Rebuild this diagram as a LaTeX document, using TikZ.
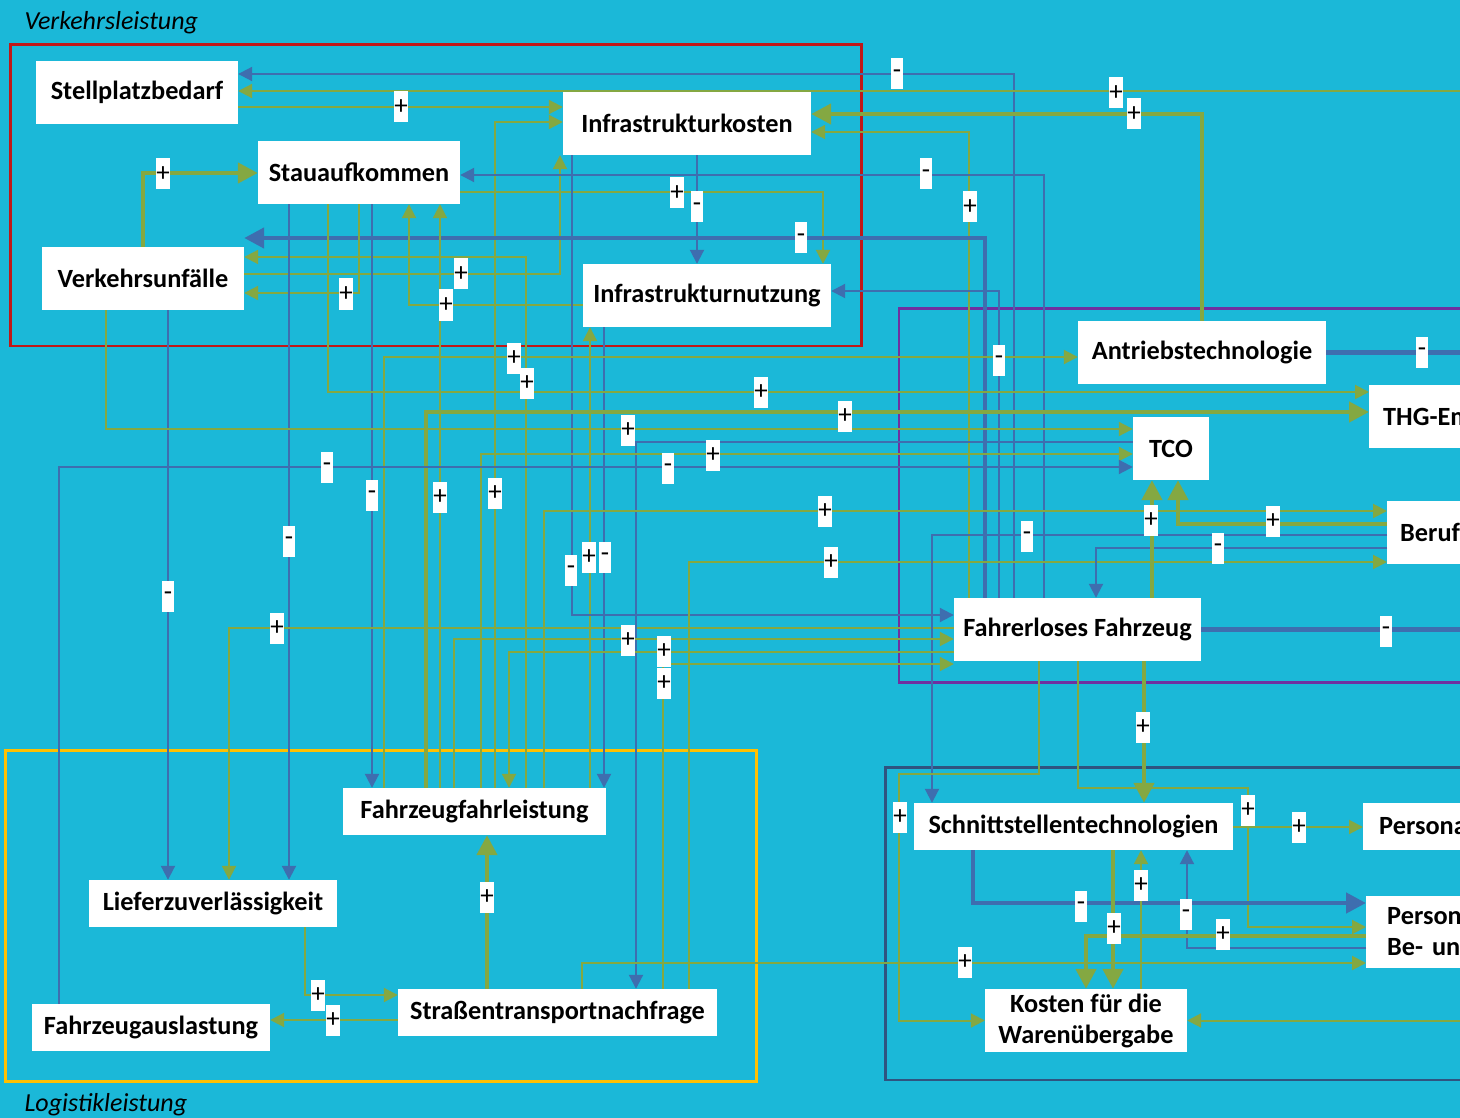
\documentclass[tikz,border=0pt]{standalone}
\usepackage{fontspec}
\setmainfont{Carlito}
\usetikzlibrary{arrows.meta, positioning}

\definecolor{bgcyan}{RGB}{27,184,216}
\definecolor{lgreen}{RGB}{132,168,66}
\definecolor{lblue}{RGB}{62,110,175}
\definecolor{redframe}{RGB}{192,24,24}
\definecolor{yellowframe}{RGB}{255,192,0}
\definecolor{purpleframe}{RGB}{112,48,160}
\definecolor{navyframe}{RGB}{47,84,128}

\begin{document}
\begin{tikzpicture}[x=1pt, y=-1pt,
    box/.style={fill=white, inner sep=0pt, font=\bfseries\fontsize{26.3}{31}\selectfont},
    cutbox/.style={box, anchor=west, text width=190pt, align=left, inner xsep=14pt},
    signbox/.style={fill=white, inner sep=0pt, minimum width=12pt, minimum height=31pt, font=\fontsize{27}{27}\selectfont},
    areabox/.style={line width=2.8pt},
    gline/.style={draw=lgreen, line width=2pt, -{Triangle[length=14pt,width=14pt]}},
    bline/.style={draw=lblue, line width=2pt, -{Triangle[length=14pt,width=14pt]}},
    gfat/.style={draw=lgreen, line width=4.5pt, -{Triangle[length=20pt,width=20pt]}},
    bfat/.style={draw=lblue, line width=4.5pt, -{Triangle[length=20pt,width=20pt]}},
    areatitle/.style={anchor=base west, font=\itshape\fontsize{26}{30}\selectfont}
  ]
    \useasboundingbox (0,0) rectangle (1460,1118);
    \clip (0,0) rectangle (1460,1118);
    \fill[bgcyan] (0,0) rectangle (1460,1118);

    % Areas
    \draw[areabox, redframe] (10.7,44.7) rectangle (861.3,346);
    \draw[areabox, yellowframe] (5.3,750.7) rectangle (756.3,1081.3);
    \draw[areabox, purpleframe] (899,308.3) rectangle (1480,682.7);
    \draw[areabox, navyframe] (885.6,767.7) rectangle (1480,1080);
    \node[areatitle] (tverkehr) at (21,30) {Verkehrsleistung};
    \node[areatitle] (tlogistik) at (21,1111) {Logistikleistung};

    % Variables
    \node[box, minimum width=202, minimum height=63] (stell) at (137,92.5) {Stellplatzbedarf};
    \node[box, minimum width=202, minimum height=63] (stau) at (359,172.5) {Stauaufkommen};
    \node[box, minimum width=202, minimum height=63] (unfall) at (143,278.5) {Verkehrsunfälle};
    \node[box, minimum width=248, minimum height=63] (ikost) at (687,123.5) {Infrastrukturkosten};
    \node[box, minimum width=248, minimum height=63] (inutz) at (707,295.5) {Infrastrukturnutzung};
    \node[box, minimum width=248, minimum height=63] (antrieb) at (1202,352.5) {Antriebstechnologie};
    \node[box, minimum width=76, minimum height=63] (tco) at (1171,448.5) {TCO};
    \node[box, minimum width=247, minimum height=63] (fahrerlos) at (1077.5,629.5) {Fahrerloses Fahrzeug};
    \node[box, minimum width=319, minimum height=47] (schnitt) at (1073.5,826.5) {Schnittstellentechnologien};
    \node[box, minimum width=202, minimum height=63, align=center] (kosten) at (1086,1020.5) {Kosten für die\\Warenübergabe};
    \node[box, minimum width=263, minimum height=47] (ffl) at (474.5,811.5) {Fahrzeugfahrleistung};
    \node[box, minimum width=248, minimum height=47] (liefer) at (213,903.5) {Lieferzuverlässigkeit};
    \node[box, minimum width=319, minimum height=47] (snf) at (557.5,1012.5) {Straßentransportnachfrage};
    \node[box, minimum width=238, minimum height=47] (ausl) at (151,1027.5) {Fahrzeugauslastung};
    \node[cutbox, minimum height=63] (thg) at (1369,416.5) {THG-Em};
    \node[cutbox, minimum height=63, inner xsep=13pt] (beruf) at (1387,532.5) {Beruf};
    \node[cutbox, minimum height=47, inner xsep=16pt] (persona) at (1363,826.5) {Persona};
    \node[cutbox, minimum height=72, inner xsep=21pt] (person) at (1366,932) {Person\\Be- und};

    % Free ends at the right edge
    \coordinate (redge1) at (1460,91);
    \coordinate (redge2) at (1460,352.5);
    \coordinate (redge3) at (1460,629.5);
    \coordinate (redge4) at (1460,1020.5);

    % Links, drawn under the boxes
    \begin{scope}
    \draw[bline] (fahrerlos.north -| 1014,0) |- (stell.east |- 0,74);
    \draw[gline] (redge1) -- (stell.east |- redge1);
    \draw[gline] (stell.east |- 0,107) -- (ikost.west |- 0,107);
    \draw[gline] (ffl.north -| 495,0) |- (ikost.west |- 0,122);
    \draw[gfat] (antrieb.north) |- (ikost.east |- 0,114);
    \draw[gline] (fahrerlos.north -| 969,0) |- (ikost.east |- 0,132);
    \draw[gline] (unfall.east |- 0,274) -| (ikost.south -| 560,0);
    \draw[gfat] (unfall.north) |- (stau.west |- 0,173);
    \draw[bline] (fahrerlos.north -| 1044,0) |- (stau.east |- 0,175);
    \draw[gline] (stau.east |- 0,192) -| (inutz.north -| 823,0);
    \draw[bline] (ikost.south -| 697,0) -- (inutz.north -| 697,0);
    \draw[bfat] (fahrerlos.north -| 985,0) |- (unfall.east |- 0,238);
    \draw[gline] (ffl.north -| 526,0) |- (unfall.east |- 0,257);
    \draw[gline] (stau.south -| 359,0) |- (unfall.east |- 0,293);
    \draw[gline] (inutz.west |- 0,305) -| (stau.south -| 409,0);
    \draw[gline] (ffl.north -| 440,0) -- (stau.south -| 440,0);
    \draw[bline] (fahrerlos.north -| 999,0) |- (inutz.east |- 0,291);
    \draw[gline] (ffl.north -| 590,0) -- (inutz.south -| 590,0);
    \draw[bline] (inutz.south -| 604,0) -- (ffl.north -| 604,0);
    \draw[bline] (stau.south -| 372,0) -- (ffl.north -| 372,0);
    \draw[bline] (stau.south -| 289,0) -- (liefer.north -| 289,0);
    \draw[bline] (unfall.south -| 168,0) -- (liefer.north -| 168,0);
    \draw[gline] (fahrerlos.west |- 0,628) -| (liefer.north -| 229,0);
    \draw[bline] (ikost.south -| 572,0) |- (fahrerlos.west |- 0,615);
    \draw[gline] (ffl.north -| 384,0) |- (antrieb.west |- 0,357);
    \draw[gline] (stau.south -| 328,0) |- (thg.west |- 0,392);
    \draw[gfat] (ffl.north -| 426,0) |- (thg.west |- 0,412);
    \draw[gline] (unfall.south -| 106,0) |- (tco.west |- 0,429);
    \draw[bline] (tco.west |- 0,442) -| (snf.north -| 636,0);
    \draw[gline] (ffl.north -| 481,0) |- (tco.west |- 0,454);
    \draw[bline] (ausl.north -| 59,0) |- (tco.west |- 0,467);
    \draw[gline] (ffl.north -| 544,0) |- (beruf.west |- 0,511);
    \draw[gline] (snf.north -| 689,0) |- (beruf.west |- 0,562);
    \draw[gfat] (beruf.west |- 0,524) -| (tco.south -| 1178,0);
    \draw[bline] (beruf.west |- 0,535) -| (schnitt.north -| 932,0);
    \draw[bline] (beruf.west |- 0,548) -| (fahrerlos.north -| 1096,0);
    \draw[gfat] (fahrerlos.north -| 1152,0) -- (tco.south -| 1152,0);
    \draw[gline] (ffl.north -| 454,0) |- (fahrerlos.west |- 0,639);
    \draw[gline] (fahrerlos.west |- 0,652) -| (ffl.north -| 509,0);
    \draw[gline] (snf.north -| 663,0) |- (fahrerlos.west |- 0,664);
    \draw[bfat, -] (antrieb.east) -- (redge2);
    \draw[bfat, -] (fahrerlos.east) -- (redge3);

    % Logistics and handover
    \draw[gline] (fahrerlos.south -| 1039,0) |- (899,774) |- (kosten.west);
    \draw[gline] (fahrerlos.south -| 1078,0) |- (1248,788) |- (person.west |- 0,927);
    \draw[gfat] (fahrerlos.south -| 1144,0) -- (schnitt.north -| 1144,0);
    \draw[gline] (schnitt.east |- 0,827) -- (persona.west |- 0,827);
    \draw[bfat] (schnitt.south -| 973,0) |- (person.west |- 0,903);
    \draw[gfat] (schnitt.south -| 1113,0) -- (kosten.north -| 1113,0);
    \draw[gline] (kosten.north -| 1141,0) -- (schnitt.south -| 1141,0);
    \draw[bline] (person.west |- 0,948) -| (schnitt.south -| 1187,0);
    \draw[gfat] (person.west |- 0,936) -| (kosten.north -| 1086,0);
    \draw[gline] (snf.north -| 582,0) |- (person.west |- 0,963);
    \draw[gline] (redge4) -- (kosten.east |- redge4);
    \draw[gfat] (snf.north -| 487,0) -- (ffl.south -| 487,0);
    \draw[gline] (liefer.south -| 305,0) |- (snf.west |- 0,995);
    \draw[gline] (snf.west |- 0,1020) -- (ausl.east |- 0,1020);
    \end{scope}

    % Polarities
    \foreach \x/\y/\s [count=\i] in {401/107/+, 897/74/-, 1116/93/+, 1134/114/+, 495/493/+, 970/207/+,
        461/274/+, 163/174/+, 926/174/-, 677/193/+, 697/207/-, 801/238/-, 527/383/+, 346/294/+,
        446/305/+, 440/497/+, 999/360/-, 589/557/+, 605/557/-, 372/495/-, 289/541/-, 168/596/-,
        277/628/+, 571/570/-, 514/358/+, 761/392/+, 845/416/+, 628/430/+, 713/455/+, 327/467/-,
        668/468/-, 825/511/+, 831/562/+, 1273/521/+, 1027/536/-, 1218/548/-, 1151/520/+, 628/640/+,
        664/651/+, 664/683/+, 1422/352/-, 1386/631/-, 900/817/+, 1248/810/+, 1143/727/+, 1299/827/+,
        1081/906/-, 1114/928/+, 1141/885/+, 1186/914/-, 1223/934/+, 965/962/+, 487/897/+, 318/995/+,
        333/1020/+} {
      \node[signbox] (sg\i) at (\x,\y) {\s};
    }
\end{tikzpicture}
\end{document}
